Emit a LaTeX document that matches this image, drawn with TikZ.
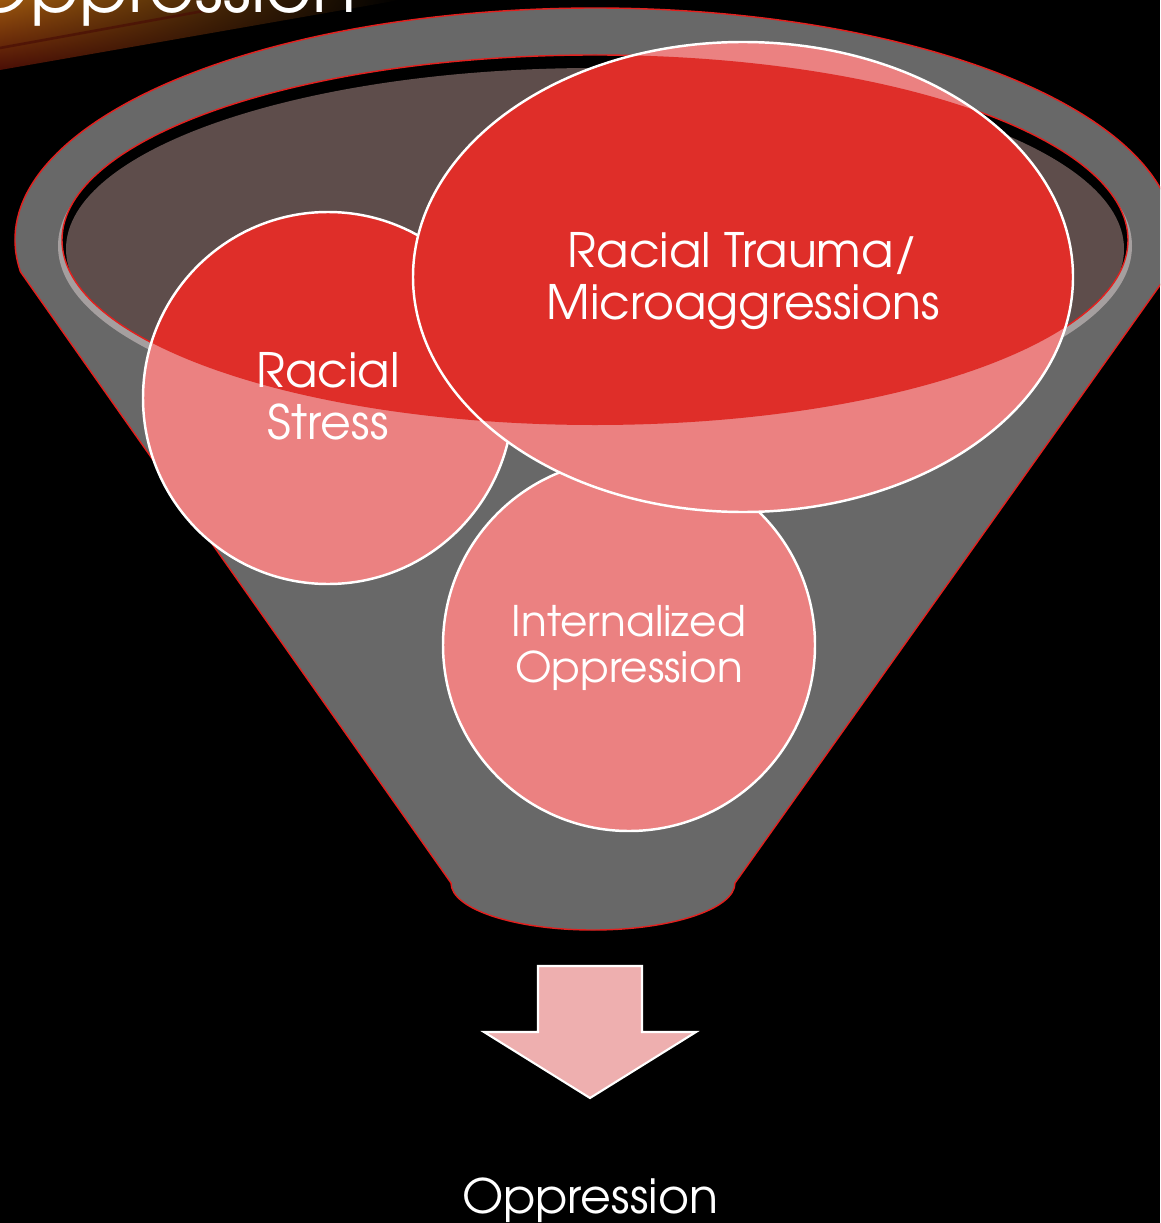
\documentclass[tikz,border=0pt]{standalone}
\usepackage{fontspec}
\IfFontExistsTF{TeX Gyre Adventor}{\setmainfont{TeX Gyre Adventor}}{\setmainfont{Poppins}}
\usetikzlibrary{positioning,shadings}

\definecolor{funnelgray}{HTML}{686868}
\definecolor{rimred}{HTML}{E3201E}
\definecolor{holebrown}{HTML}{5E4D4B}
\definecolor{lipgray}{HTML}{A59F9F}
\definecolor{bubblepink}{HTML}{EB8181}
\definecolor{bubblered}{HTML}{DF2E29}
\definecolor{arrowpink}{HTML}{EEAFAF}
\definecolor{streakorange}{HTML}{9A560E}
\definecolor{streakred}{HTML}{4A0E06}

\tikzset{
	bubble/.style={draw=white, line width=1.4pt},
	rimline/.style={draw=rimred, line width=0.8pt},
	label text/.style={text=white, align=center, inner sep=0pt, font=\fontsize{27}{29.6}\selectfont},
}

\begin{document}
\begin{tikzpicture}[x=0.02cm, y=-0.02cm]
	\useasboundingbox (0,0) rectangle (1160,1223);
	\clip (0,0) rectangle (1160,1223);
	\fill[black] (0,0) rectangle (1160,1223);

	% glow behind the title
	\begin{scope}
		\clip (0,0) -- (400,0) -- (0,70) -- cycle;
		\shade[upper left=streakorange, upper right=black, lower left=streakred, lower right=black] (0,0) rectangle (400,70);
	\end{scope}
	\draw[streakred, line width=1.5pt, opacity=0.7] (0,48) -- (220,8);
	\node[anchor=base east, text=white, inner sep=0pt, font=\fontsize{41}{41}\selectfont] (title) at (357,13) {Oppression};

	% funnel
	\coordinate (rim) at (595,240);
	\filldraw[fill=funnelgray, rimline] (rim) ++(172.1:580 and 232)
		arc[start angle=172.1, end angle=367.9, x radius=580, y radius=232]
		-- (735,883) arc[start angle=0, end angle=180, x radius=142, y radius=47] -- cycle;
	\fill[lipgray] (595,246) ellipse[x radius=537, y radius=186];
	\fill[black] (rim) ellipse[x radius=533, y radius=185];
	\begin{scope}
		\clip (rim) ellipse[x radius=533, y radius=185];
		\fill[holebrown] (595,249) ellipse[x radius=529, y radius=181];
	\end{scope}
	\draw[rimline] (rim) ellipse[x radius=533, y radius=185];

	% bubbles
	\coordinate (stress) at (328,398);
	\coordinate (internal) at (629,645);
	\coordinate (trauma) at (743,277);
	\foreach \name/\rx/\ry in {stress/185/186, internal/186/186, trauma/330/235} {
		\fill[bubblepink] (\name) ellipse[x radius=\rx, y radius=\ry];
		\begin{scope}
			\clip (\name) ellipse[x radius=\rx, y radius=\ry];
			\fill[bubblered] (rim) ellipse[x radius=533, y radius=185];
		\end{scope}
		\draw[bubble] (\name) ellipse[x radius=\rx, y radius=\ry];
	}
	\node[label text] (stress label) at (328,396) {Racial\\Stress};
	\node[label text, font=\fontsize{24}{26}\selectfont] (internal label) at (629,648) {Internalized\\Oppression};
	\node[label text] (trauma label) at (743,281) {Racial Trauma/\\Microaggressions};

	% outflow
	\coordinate (drop) at (590,966);
	\filldraw[fill=arrowpink, draw=white, line width=1.2pt] (drop) ++(-52,0) -- ++(104,0) -- ++(0,66)
		-- ++(54,0) -- ++(-106,66) -- ++(-106,-66) -- ++(54,0) -- cycle;
	\node[label text, anchor=base] (result) at (590,1213) {Oppression};
\end{tikzpicture}
\end{document}
